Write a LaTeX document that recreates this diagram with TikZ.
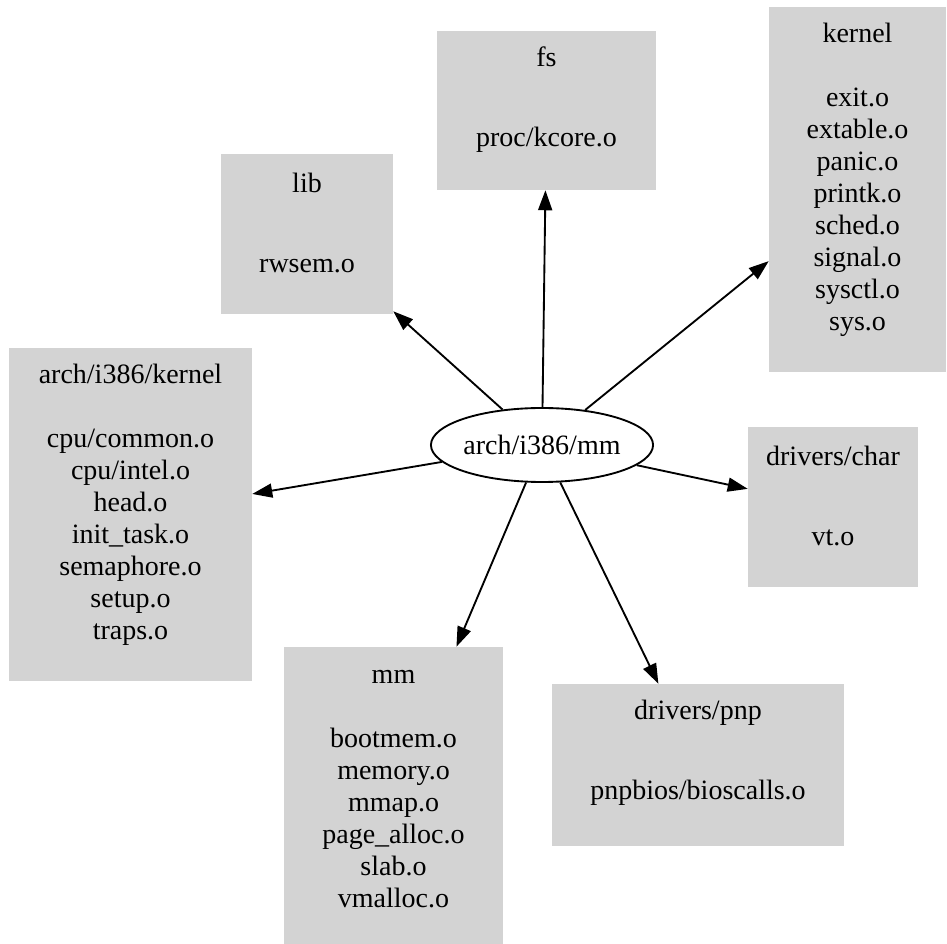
\documentclass[tikz,border=0pt]{standalone}
\usepackage{fontspec}
\setmainfont{Liberation Serif}
\usetikzlibrary{arrows.meta,fit,shapes.geometric}
\definecolor{boxgray}{HTML}{D3D3D3}
\begin{document}
\begin{tikzpicture}[x=0.75pt,y=-0.75pt,
  dirbox/.style={fill=boxgray, draw=none, inner sep=0pt},
  dirtext/.style={align=center, inner sep=0pt, font=\fontsize{21}{24}\selectfont},
  hub/.style={ellipse, draw, line width=1.4pt, inner sep=0pt,
    minimum width=160.5pt, minimum height=55.5pt,
    font=\fontsize{21}{24}\selectfont},
  dep/.style={line width=1.4pt, -{Triangle[length=15pt,width=10.5pt]}}]

\useasboundingbox (0,0) rectangle (947,944);

% directory boxes
\node[dirbox, fit={(437,31) (656,190)}] (fsbox) {};
\node[dirbox, fit={(769,7) (946,372)}] (kernelbox) {};
\node[dirbox, fit={(221,154) (393,314)}] (libbox) {};
\node[dirbox, fit={(9,348) (252,681)}] (archkbox) {};
\node[dirbox, fit={(748,427) (918,587)}] (charbox) {};
\node[dirbox, fit={(284,647) (503,944)}] (mmbox) {};
\node[dirbox, fit={(552,684) (844,846)}] (pnpbox) {};

% box contents
\node[dirtext] (fstext) at (546.5,100) {fs\\[36pt]proc/kcore.o};
\node[dirtext] (kerneltext) at (857.5,180) {kernel\\[24pt]exit.o\\extable.o\\panic.o\\printk.o\\sched.o\\signal.o\\sysctl.o\\sys.o};
\node[dirtext] (libtext) at (307,223) {lib\\[36pt]rwsem.o};
\node[dirtext] (archktext) at (130.5,505) {arch/i386/kernel\\[24pt]cpu/common.o\\cpu/intel.o\\head.o\\init\_task.o\\semaphore.o\\setup.o\\traps.o};
\node[dirtext] (chartext) at (833,496) {drivers/char\\[36pt]vt.o};
\node[dirtext] (mmtext) at (393.5,789) {mm\\[24pt]bootmem.o\\memory.o\\mmap.o\\page\_alloc.o\\slab.o\\vmalloc.o};
\node[dirtext] (pnptext) at (698,753) {drivers/pnp\\[36pt]pnpbios/bioscalls.o};

% central object
\node[hub] (archmm) at (542,445) {arch/i386/mm};

% dependencies
\draw[dep] (archmm) -- (fsbox);
\draw[dep] (archmm) -- (kernelbox);
\draw[dep] (archmm) -- (libbox);
\draw[dep] (archmm) -- (archkbox);
\draw[dep] (archmm) -- (charbox);
\draw[dep] (archmm) -- (mmbox);
\draw[dep] (archmm) -- (pnpbox);
\end{tikzpicture}
\end{document}
